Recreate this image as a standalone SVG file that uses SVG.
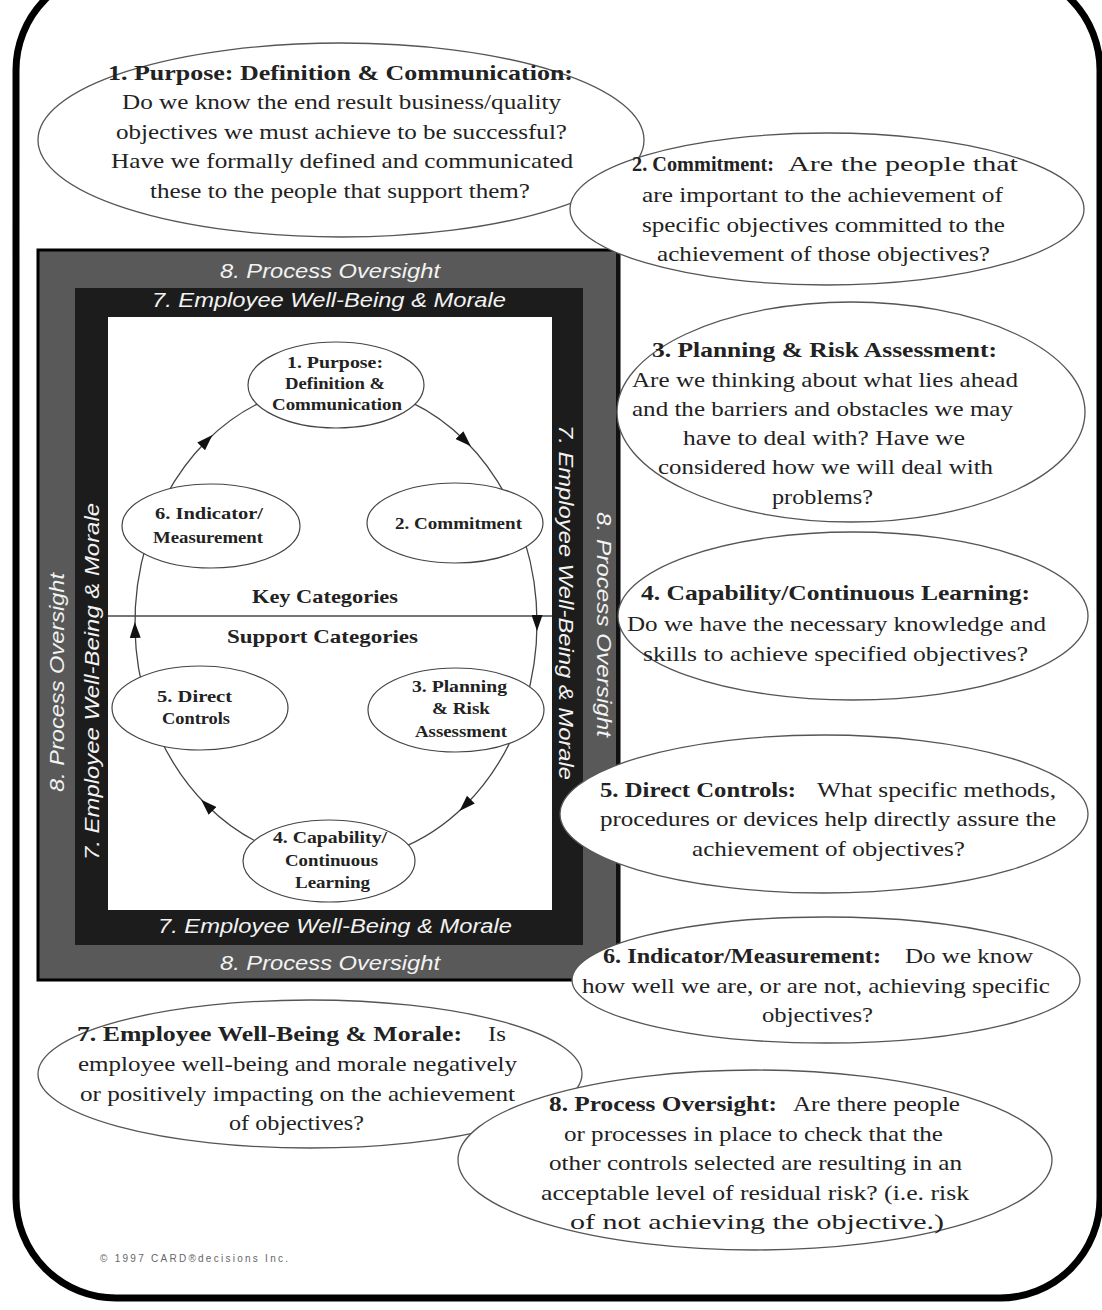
<svg xmlns="http://www.w3.org/2000/svg" width="1102" height="1310" viewBox="0 0 1102 1310">
<style>
.co{fill:#fff;stroke:#555;stroke-width:1.3}
.nd{fill:#fff;stroke:#444;stroke-width:1.2}
.t{font-family:"Liberation Serif","Times New Roman",serif;font-size:21px;fill:#222}
.b{font-weight:bold}
.n{font-family:"Liberation Serif","Times New Roman",serif;font-size:16px;font-weight:bold;fill:#222}
.k{font-family:"Liberation Serif","Times New Roman",serif;font-size:19px;font-weight:bold;fill:#222}
.f{font-family:"Liberation Sans",Arial,sans-serif;font-size:20px;font-style:italic;fill:#f2f2f2}
.arc{fill:none;stroke:#444;stroke-width:1.3;marker-mid:url(#ah)}
</style>
<defs>
<marker id="ah" viewBox="0 0 16 11" refX="8" refY="5.5" markerWidth="16" markerHeight="11" markerUnits="userSpaceOnUse" orient="auto">
<path d="M0,0 L16,5.5 L0,11 z" fill="#111"/>
</marker>
</defs>
<rect x="0" y="0" width="1102" height="1310" fill="#fff"/>
<rect id="border" x="16" y="-30" width="1084" height="1328" rx="100" ry="100" fill="none" stroke="#000" stroke-width="7"/>

<g id="frame">
<rect x="38" y="250" width="581" height="730" fill="#595959" stroke="#000" stroke-width="3"/>
<line x1="618" y1="252" x2="618" y2="980" stroke="#111" stroke-width="4"/>
<rect x="75" y="288" width="508" height="657" fill="#1c1c1c"/>
<rect x="108" y="317" width="444" height="593" fill="#fff"/>
<line x1="108" y1="616" x2="552" y2="616" stroke="#777" stroke-width="2"/>
<text class="f" x="220" y="278" textLength="220" lengthAdjust="spacingAndGlyphs">8. Process Oversight</text>
<text class="f" x="152" y="307" textLength="354" lengthAdjust="spacingAndGlyphs">7. Employee Well-Being &amp; Morale</text>
<text class="f" x="158" y="933" textLength="354" lengthAdjust="spacingAndGlyphs">7. Employee Well-Being &amp; Morale</text>
<text class="f" x="220" y="970" textLength="220" lengthAdjust="spacingAndGlyphs">8. Process Oversight</text>
<text class="f" transform="translate(64,792) rotate(-90)" textLength="219" lengthAdjust="spacingAndGlyphs">8. Process Oversight</text>
<text class="f" transform="translate(99,860) rotate(-90)" textLength="357" lengthAdjust="spacingAndGlyphs">7. Employee Well-Being &amp; Morale</text>
<text class="f" transform="translate(559,425) rotate(90)" textLength="355" lengthAdjust="spacingAndGlyphs">7. Employee Well-Being &amp; Morale</text>
<text class="f" transform="translate(597,512) rotate(90)" textLength="225" lengthAdjust="spacingAndGlyphs">8. Process Oversight</text>
<text class="k" x="252" y="603" textLength="146" lengthAdjust="spacingAndGlyphs">Key Categories</text>
<text class="k" x="227" y="643" textLength="191" lengthAdjust="spacingAndGlyphs">Support Categories</text>
</g>

<g id="connectors">
<path class="arc" d="M411.3,402.3 A201,238 0 0 1 465.2,440.7 A201,238 0 0 1 506.5,496.9"/>
<path class="arc" d="M524.9,541.6 A201,238 0 0 1 537,623 A201,238 0 0 1 524.9,704.4"/>
<path class="arc" d="M513.5,734.7 A201,238 0 0 1 465.2,805.3 A201,238 0 0 1 398.1,849.4"/>
<path class="arc" d="M273.9,849.4 A201,238 0 0 1 206.8,805.3 A201,238 0 0 1 158.5,734.7"/>
<path class="arc" d="M147.1,704.4 A201,238 0 0 1 135,630 A201,238 0 0 1 147.1,541.6"/>
<path class="arc" d="M165.5,496.9 A201,238 0 0 1 206.8,440.7 A201,238 0 0 1 260.7,402.3"/>
</g>

<g id="n1">
<ellipse class="nd" cx="336" cy="385" rx="88" ry="43"/>
<text class="n" x="287" y="368" textLength="96" lengthAdjust="spacingAndGlyphs">1. Purpose:</text>
<text class="n" x="285" y="389" textLength="100" lengthAdjust="spacingAndGlyphs">Definition &amp;</text>
<text class="n" x="272" y="410" textLength="130" lengthAdjust="spacingAndGlyphs">Communication</text>
</g>
<g id="n2">
<ellipse class="nd" cx="455" cy="523" rx="88" ry="40"/>
<text class="n" x="395" y="529" textLength="127" lengthAdjust="spacingAndGlyphs">2. Commitment</text>
</g>
<g id="n3">
<ellipse class="nd" cx="456" cy="710" rx="88" ry="42"/>
<text class="n" x="412" y="692" textLength="95" lengthAdjust="spacingAndGlyphs">3. Planning</text>
<text class="n" x="432" y="714" textLength="58" lengthAdjust="spacingAndGlyphs">&amp; Risk</text>
<text class="n" x="415" y="737" textLength="92" lengthAdjust="spacingAndGlyphs">Assessment</text>
</g>
<g id="n4">
<ellipse class="nd" cx="329" cy="861" rx="86" ry="41"/>
<text class="n" x="273" y="843" textLength="114" lengthAdjust="spacingAndGlyphs">4. Capability/</text>
<text class="n" x="285" y="866" textLength="93" lengthAdjust="spacingAndGlyphs">Continuous</text>
<text class="n" x="295" y="888" textLength="75" lengthAdjust="spacingAndGlyphs">Learning</text>
</g>
<g id="n5">
<ellipse class="nd" cx="200" cy="708" rx="88" ry="42"/>
<text class="n" x="157" y="702" textLength="75" lengthAdjust="spacingAndGlyphs">5. Direct</text>
<text class="n" x="162" y="724" textLength="68" lengthAdjust="spacingAndGlyphs">Controls</text>
</g>
<g id="n6">
<ellipse class="nd" cx="211" cy="526" rx="89" ry="42"/>
<text class="n" x="155" y="519" textLength="108" lengthAdjust="spacingAndGlyphs">6. Indicator/</text>
<text class="n" x="153" y="543" textLength="110" lengthAdjust="spacingAndGlyphs">Measurement</text>
</g>

<g id="c1">
<ellipse class="co" cx="341" cy="140" rx="303" ry="97"/>
<text class="t b" x="108" y="80" textLength="465" lengthAdjust="spacingAndGlyphs">1. Purpose:  Definition &amp; Communication:</text>
<text class="t" x="122" y="109" textLength="439" lengthAdjust="spacingAndGlyphs">Do we know the end result business/quality</text>
<text class="t" x="116" y="139" textLength="451" lengthAdjust="spacingAndGlyphs">objectives we must achieve to be successful?</text>
<text class="t" x="111" y="168" textLength="462" lengthAdjust="spacingAndGlyphs">Have we formally defined and communicated</text>
<text class="t" x="150" y="198" textLength="380" lengthAdjust="spacingAndGlyphs">these to the people that support them?</text>
</g>
<g id="c2">
<ellipse class="co" cx="827" cy="209" rx="257" ry="76"/>
<text class="t b" x="632" y="171" textLength="142" lengthAdjust="spacingAndGlyphs">2. Commitment:</text>
<text class="t" x="788" y="171" textLength="230" lengthAdjust="spacingAndGlyphs">Are the people that</text>
<text class="t" x="642" y="202" textLength="361" lengthAdjust="spacingAndGlyphs">are important to the achievement of</text>
<text class="t" x="642" y="232" textLength="363" lengthAdjust="spacingAndGlyphs">specific objectives committed to the</text>
<text class="t" x="657" y="261" textLength="333" lengthAdjust="spacingAndGlyphs">achievement of those objectives?</text>
</g>
<g id="c3">
<ellipse class="co" cx="851" cy="412" rx="234" ry="110"/>
<text class="t b" x="652" y="357" textLength="345" lengthAdjust="spacingAndGlyphs">3. Planning &amp; Risk Assessment:</text>
<text class="t" x="632" y="387" textLength="386" lengthAdjust="spacingAndGlyphs">Are we thinking about what lies ahead</text>
<text class="t" x="632" y="416" textLength="381" lengthAdjust="spacingAndGlyphs">and the barriers and obstacles we may</text>
<text class="t" x="683" y="445" textLength="282" lengthAdjust="spacingAndGlyphs">have to deal with?  Have we</text>
<text class="t" x="658" y="474" textLength="335" lengthAdjust="spacingAndGlyphs">considered how we will deal with</text>
<text class="t" x="772" y="504" textLength="101" lengthAdjust="spacingAndGlyphs">problems?</text>
</g>
<g id="c4">
<ellipse class="co" cx="853" cy="616" rx="235" ry="84"/>
<text class="t b" x="641" y="600" textLength="389" lengthAdjust="spacingAndGlyphs">4. Capability/Continuous Learning:</text>
<text class="t" x="627" y="631" textLength="419" lengthAdjust="spacingAndGlyphs">Do we have the necessary knowledge and</text>
<text class="t" x="643" y="661" textLength="385" lengthAdjust="spacingAndGlyphs">skills to achieve specified objectives?</text>
</g>
<g id="c5">
<ellipse class="co" cx="824" cy="814" rx="264" ry="79"/>
<text class="t b" x="600" y="797" textLength="196" lengthAdjust="spacingAndGlyphs">5. Direct Controls:</text>
<text class="t" x="817" y="797" textLength="239" lengthAdjust="spacingAndGlyphs">What specific methods,</text>
<text class="t" x="600" y="826" textLength="456" lengthAdjust="spacingAndGlyphs">procedures or devices help directly assure the</text>
<text class="t" x="692" y="856" textLength="273" lengthAdjust="spacingAndGlyphs">achievement of objectives?</text>
</g>
<g id="c6">
<ellipse class="co" cx="826" cy="980" rx="254" ry="63"/>
<text class="t b" x="603" y="963" textLength="278" lengthAdjust="spacingAndGlyphs">6. Indicator/Measurement:</text>
<text class="t" x="905" y="963" textLength="128" lengthAdjust="spacingAndGlyphs">Do we know</text>
<text class="t" x="582" y="993" textLength="468" lengthAdjust="spacingAndGlyphs">how well we are, or are not, achieving specific</text>
<text class="t" x="762" y="1022" textLength="111" lengthAdjust="spacingAndGlyphs">objectives?</text>
</g>
<g id="c7">
<ellipse class="co" cx="310" cy="1074" rx="272" ry="74"/>
<text class="t b" x="77" y="1041" textLength="385" lengthAdjust="spacingAndGlyphs">7. Employee Well-Being &amp; Morale:</text>
<text class="t" x="488" y="1041" textLength="18" lengthAdjust="spacingAndGlyphs">Is</text>
<text class="t" x="78" y="1071" textLength="439" lengthAdjust="spacingAndGlyphs">employee well-being and morale negatively</text>
<text class="t" x="80" y="1101" textLength="435" lengthAdjust="spacingAndGlyphs">or positively impacting on the achievement</text>
<text class="t" x="229" y="1130" textLength="135" lengthAdjust="spacingAndGlyphs">of objectives?</text>
</g>
<g id="c8">
<ellipse class="co" cx="755" cy="1160" rx="297" ry="90"/>
<text class="t b" x="549" y="1111" textLength="228" lengthAdjust="spacingAndGlyphs">8. Process Oversight:</text>
<text class="t" x="793" y="1111" textLength="167" lengthAdjust="spacingAndGlyphs">Are there people</text>
<text class="t" x="564" y="1141" textLength="379" lengthAdjust="spacingAndGlyphs">or processes in place to check that the</text>
<text class="t" x="549" y="1170" textLength="413" lengthAdjust="spacingAndGlyphs">other controls selected are resulting in an</text>
<text class="t" x="541" y="1200" textLength="428" lengthAdjust="spacingAndGlyphs">acceptable level of residual risk?  (i.e. risk</text>
<text class="t" x="570" y="1229" textLength="374" lengthAdjust="spacingAndGlyphs">of not achieving the objective.)</text>
</g>

<text x="100" y="1262" font-family="'Liberation Sans',Arial,sans-serif" font-size="10" fill="#666" textLength="188" lengthAdjust="spacing">© 1997 CARD®decisions Inc.</text>
</svg>
